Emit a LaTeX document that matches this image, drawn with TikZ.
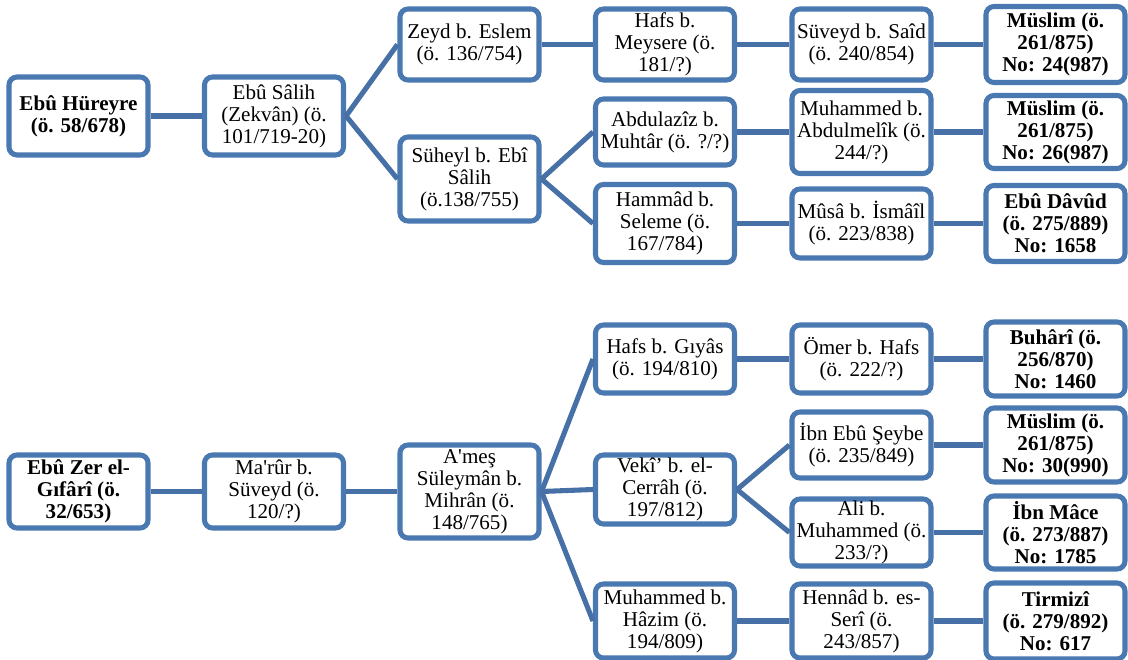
\documentclass[tikz,border=0pt]{standalone}
\usepackage{fontspec}
\setmainfont{Liberation Serif}[Ligatures=TeXOff]
\definecolor{boxblue}{RGB}{74,120,176}
\definecolor{lineblue}{RGB}{70,112,166}
\begin{document}
\begin{tikzpicture}[x=0.75pt,y=-0.75pt,
  nbox/.style={draw=boxblue, line width=3.8pt, rounded corners=6pt, fill=white,
    minimum width=139*0.75pt, minimum height=#1*0.75pt, inner sep=0pt,
    align=center, font=\fontsize{15.8}{16.5}\selectfont},
  bbox/.style={nbox=#1, font=\fontsize{15.8}{16.5}\selectfont\bfseries},
  link/.style={draw=lineblue, line width=3.8pt}]
\useasboundingbox (0,0) rectangle (1128,660);
% columns
\def\ca{78.5}\def\cb{274}\def\cc{469.5}\def\cd{665}\def\ce{861.5}\def\cf{1055.5}
% ---- top tree ----
\node[bbox=78] (a1) at (\ca,116) {Ebû Hüreyre\\(ö. 58/678)};
\node[nbox=78] (a2) at (\cb,116) {Ebû Sâlih\\(Zekvân) (ö.\\101/719-20)};
\node[nbox=71] (a3) at (\cc,44.5) {Zeyd b. Eslem\\(ö. 136/754)};
\node[nbox=84] (a4) at (\cc,179) {Süheyl b. Ebî\\Sâlih\\(ö.138/755)};
\node[nbox=71] (a5) at (\cd,44.5) {Hafs b.\\Meysere (ö.\\181/?)};
\node[nbox=71] (a6) at (\ce,44.5) {Süveyd b. Saîd\\(ö. 240/854)};
\node[bbox=76] (a7) at (\cf,44.5) {Müslim (ö.\\261/875)\\No: 24(987)};
\node[nbox=66] (a8) at (\cd,132) {Abdulazîz b.\\Muhtâr (ö. ?/?)};
\node[nbox=83] (a9) at (\ce,132) {Muhammed b.\\Abdulmelîk (ö.\\244/?)};
\node[bbox=73] (a10) at (\cf,132) {Müslim (ö.\\261/875)\\No: 26(987)};
\node[nbox=78] (a11) at (\cd,223.5) {Hammâd b.\\Seleme (ö.\\167/784)};
\node[nbox=69] (a12) at (\ce,223.5) {Mûsâ b. İsmâîl\\(ö. 223/838)};
\node[bbox=76] (a13) at (\cf,223.5) {Ebû Dâvûd\\(ö. 275/889)\\No: 1658};
% ---- bottom tree ----
\node[bbox=73] (b1) at (\ca,491.5) {Ebû Zer el-\\Gıfârî (ö.\\32/653)};
\node[nbox=73] (b2) at (\cb,491.5) {Ma'rûr b.\\Süveyd (ö.\\120/?)};
\node[nbox=93] (b3) at (\cc,491.5) {A'meş\\Süleymân b.\\Mihrân (ö.\\148/765)};
\node[nbox=68] (b4) at (\cd,359) {Hafs b. Gıyâs\\(ö. 194/810)};
\node[nbox=68] (b5) at (\ce,359) {Ömer b. Hafs\\(ö. 222/?)};
\node[bbox=74] (b6) at (\cf,359) {Buhârî (ö.\\256/870)\\No: 1460};
\node[nbox=69] (b7) at (\cd,489.5) {Vekî’ b. el-\\Cerrâh (ö.\\197/812)};
\node[nbox=66] (b8) at (\ce,445) {İbn Ebû Şeybe\\(ö. 235/849)};
\node[bbox=74] (b9) at (\cf,445) {Müslim (ö.\\261/875)\\No: 30(990)};
\node[nbox=67] (b10) at (\ce,532.5) {Ali b.\\Muhammed (ö.\\233/?)};
\node[bbox=73] (b11) at (\cf,532.5) {İbn Mâce\\(ö. 273/887)\\No: 1785};
\node[nbox=74] (b12) at (\cd,621) {Muhammed b.\\Hâzim (ö.\\194/809)};
\node[nbox=74] (b13) at (\ce,621) {Hennâd b. es-\\Serî (ö.\\243/857)};
\node[bbox=76] (b14) at (\cf,621) {Tirmizî\\(ö. 279/892)\\No: 617};
% ---- connectors ----
\draw[link] (a1.east) -- (a2.west);
\draw[link] (a2.east) -- (a3.west);
\draw[link] (a2.east) -- (a4.west);
\draw[link] (a3.east) -- (a5.west);
\draw[link] (a5.east) -- (a6.west);
\draw[link] (a6.east) -- (a7.west);
\draw[link] (a4.east) -- (a8.west);
\draw[link] (a4.east) -- (a11.west);
\draw[link] (a8.east) -- (a9.west);
\draw[link] (a9.east) -- (a10.west);
\draw[link] (a11.east) -- (a12.west);
\draw[link] (a12.east) -- (a13.west);
\draw[link] (b1.east) -- (b2.west);
\draw[link] (b2.east) -- (b3.west);
\draw[link] (b3.east) -- (b4.west);
\draw[link] (b3.east) -- (b7.west);
\draw[link] (b3.east) -- (b12.west);
\draw[link] (b4.east) -- (b5.west);
\draw[link] (b5.east) -- (b6.west);
\draw[link] (b7.east) -- (b8.west);
\draw[link] (b7.east) -- (b10.west);
\draw[link] (b8.east) -- (b9.west);
\draw[link] (b10.east) -- (b11.west);
\draw[link] (b12.east) -- (b13.west);
\draw[link] (b13.east) -- (b14.west);
\end{tikzpicture}
\end{document}
